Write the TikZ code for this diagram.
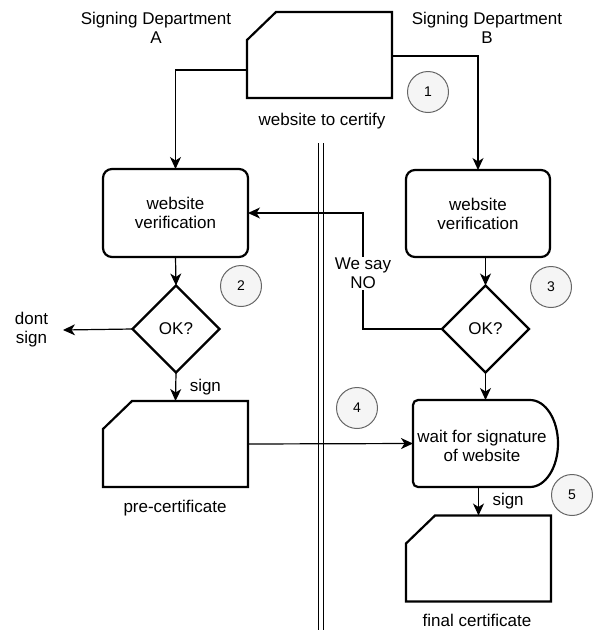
\documentclass[tikz,border=0pt]{standalone}
\usepackage{fontspec}
\setmainfont{Liberation Sans}
\usetikzlibrary{arrows.meta,shapes.geometric,calc}
\definecolor{markfill}{HTML}{F5F5F5}
\definecolor{markline}{HTML}{666666}
\begin{document}
\begin{tikzpicture}[x=1pt,y=-1pt,
  every node/.style={font=\fontsize{17}{19}\selectfont, align=center, inner sep=0pt, outer sep=0pt},
  outline/.style={line width=2.2pt, line join=miter},
  procbox/.style={draw, outline, rounded corners=9pt, rectangle, minimum width=145pt, minimum height=88pt},
  decision/.style={draw, outline, diamond, minimum width=87pt, minimum height=87pt},
  docarea/.style={rectangle, minimum width=145pt, minimum height=86pt},
  waitarea/.style={rectangle, minimum width=145pt, minimum height=87pt},
  stepmark/.style={circle, draw=markline, fill=markfill, line width=1pt, minimum size=41pt, font=\fontsize{14}{16}\selectfont},
  wire/.style={line width=1.2pt},
  flow/.style={wire, -{Stealth[length=12pt,width=11pt,inset=3.5pt]}},
  flowlabel/.style={midway, anchor=west, xshift=14pt}
]
\useasboundingbox (0,0) rectangle (595,630);

% department divider
\draw[line width=1pt, double distance=4pt] (320.5,143) -- (320.5,632);

% department titles
\node (deptA) at (156,28) {Signing Department\\A};
\node (deptB) at (487,28) {Signing Department\\B};

% documents
\node[docarea] (web) at (319.5,55) {};
\node[docarea] (preA) at (175.5,444) {};
\node[docarea] (fincert) at (478.5,558.5) {};
\foreach \d in {web,preA,fincert}
  \draw[outline] ($(\d.north west)+(29,0)$) -- (\d.north east) -- (\d.south east)
    -- (\d.south west) -- ($(\d.north west)+(0,28)$) -- cycle;
\node (webcap) at (322,121) {website to certify};
\node (precap) at (175,508) {pre-certificate};
\node (fincap) at (477,620) {final certificate};

% verification steps
\node[procbox] (verA) at (175.5,213) {website\\verification};
\node[procbox, minimum width=144pt, minimum height=87pt] (verB) at (478,213.5) {website\\verification};

% decisions
\node[decision] (diamA) at (176,329) {OK?};
\node[decision] (diamB) at (485.5,329) {OK?};

% delay step
\node[waitarea] (wait) at (485.5,443.5) {};
\draw[outline] ($(wait.north east)+(-28,0)$) -- ($(wait.north west)+(5,0)$)
  arc[start angle=-90, end angle=-180, radius=5]
  -- ($(wait.south west)+(0,-5)$)
  arc[start angle=180, end angle=90, radius=5]
  -- ($(wait.south east)+(-28,0)$)
  arc[start angle=90, end angle=-90, x radius=28, y radius=43.5] -- cycle;
\node (waittext) at (482,445.5) {wait for signature\\of website};

% outcome of a rejected check
\node[anchor=east, inner xsep=15pt] (nosign) at (63,330) {dont\\sign};

% step markers
\node[stepmark] (m1) at (428,92) {1};
\node[stepmark] (m2) at (241,286) {2};
\node[stepmark] (m3) at (551,287) {3};
\node[stepmark] (m4) at (357,408) {4};
\node[stepmark] (m5) at (572,495) {5};

% connectors
\draw[flow] ([yshift=-15pt]web.west) -| (verA.north);
\draw[flow] ([yshift=-1pt]web.east) -| (verB.north);
\draw[flow] (verA.south) -- (diamA.north);
\draw[flow] (verB.south -| diamB.north) -- (diamB.north);
\draw[flow] (diamA.west) -- (nosign.east);
\draw[flow] (diamA.south) -- node[flowlabel]{sign} (preA.north);
\draw[flow] (preA.east) -- (wait.west);
\draw[flow] (diamB.west) -- ++(-79,0) |- node[pos=0.24, fill=white, inner sep=1pt]{We say\\NO} (verA.east);
\draw[flow] (diamB.south) -- (wait.north);
\draw[flow] (wait.south -| fincert.north) -- node[flowlabel]{sign} (fincert.north);
\end{tikzpicture}
\end{document}
